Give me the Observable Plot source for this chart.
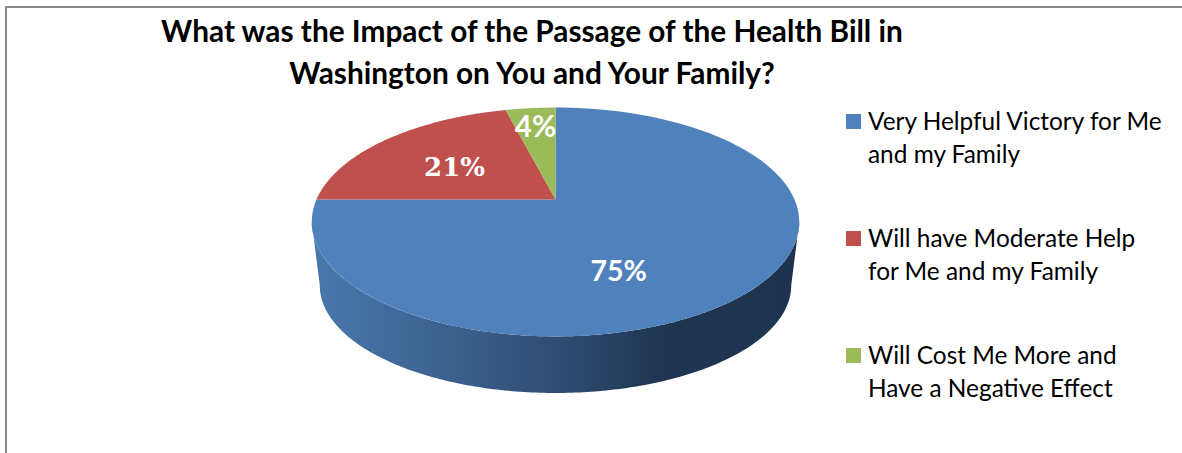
<!DOCTYPE html>
<html>
<head>
<meta charset="utf-8">
<script src="https://cdn.jsdelivr.net/npm/d3@7"></script>
<script src="https://cdn.jsdelivr.net/npm/@observablehq/plot@0.6"></script>
<style>
  html, body { margin: 0; padding: 0; background: #fff; overflow: hidden; }
  #chart { position: relative; width: 1182px; height: 453px; overflow: hidden; font-family: Lato, "Noto Sans", sans-serif; color: #000; }
  #frame { position: absolute; left: 5px; top: 6px; right: -10px; bottom: -10px; border: 2px solid #8a8a8a; }
  #title { position: absolute; left: 132px; width: 800px; top: 10px; text-align: center; font-size: 29.8px; line-height: 42px; font-weight: 700; white-space: nowrap; }
  #plot { position: absolute; left: 0; top: 0; }
  .entry { position: absolute; left: 846px; width: 330px; font-size: 24.4px; line-height: 33px; white-space: nowrap; }
  .entry i { position: absolute; left: 0; top: 10px; width: 15px; height: 15px; }
  .entry span { display: block; margin-left: 22px; }
</style>
</head>
<body>
<div id="chart">
  <div id="frame"></div>
  <div id="plot"></div>
  <div id="title">What was the Impact of the Passage of the Health Bill in<br>Washington on You and Your Family?</div>
  <div id="legend"></div>
</div>
<script>
const categories = ["Very Helpful Victory for Me", "Will have Moderate Help", "Will Cost Me More and"];
const categoriesLine2 = ["and my Family", "for Me and my Family", "Have a Negative Effect"];
const values = [75, 21, 4];
const valueLabels = ["75%", "21%", "4%"];
const colors = ["#4f81bd", "#c0504d", "#9bbb59"];

// Perspective model of the tilted disc (unit circle -> plot data units)
const tilt = 0.1965, bottomScaleX = 0.967, bottomScaleY = 0.939, drop = 0.59;
const project = (deg, r = 1) => {
  const a = deg * Math.PI / 180, u = r * Math.sin(a), v = r * Math.cos(a), w = 1 + tilt * v;
  return {x: u / w, y: v / w};
};
const projectBottom = (deg) => {
  const p = project(deg);
  return {x: p.x * bottomScaleX, y: p.y * bottomScaleY - drop};
};

// Top-face slices, clockwise from 12 o'clock
const total = d3.sum(values);
let cursor = 0;
const sliceRows = [];
const labelRows = [];
const labelSpots = [[0.264, -0.66], [-0.4226, 0.29], [-0.0837, 0.6545]];
const labelFonts = [["Lato, sans-serif", 28.5], ["DejaVu Serif, serif", 26], ["Lato, sans-serif", 29.5]];
categories.forEach((name, i) => {
  const start = cursor, end = cursor + values[i] / total * 360;
  sliceRows.push({slice: name, x: 0, y: 0});
  for (let t = 0; t <= 120; t++) {
    sliceRows.push({slice: name, ...project(start + (end - start) * t / 120)});
  }
  labelRows.push({text: valueLabels[i], x: labelSpots[i][0], y: labelSpots[i][1], family: labelFonts[i][0], size: labelFonts[i][1]});
  cursor = end;
});

// Front wall of the disc: between the two silhouette tangents
const tangent = Math.acos(-tilt) * 180 / Math.PI;
const wallRows = [];
for (let t = 0; t <= 200; t++) wallRows.push(project(tangent + (360 - 2 * tangent) * t / 200));
for (let t = 200; t >= 0; t--) wallRows.push(projectBottom(tangent + (360 - 2 * tangent) * t / 200));

// Horizontal shading of the wall, defined once for the mark below
const wallGradient = () => {
  const NS = "http://www.w3.org/2000/svg";
  const g = document.createElementNS(NS, "g");
  const defs = document.createElementNS(NS, "defs");
  const grad = document.createElementNS(NS, "linearGradient");
  grad.setAttribute("id", "wallShade");
  grad.setAttribute("gradientUnits", "objectBoundingBox");
  [[0, "#4a78ad"], [0.25, "#3d6391"], [0.5, "#2f4d73"], [0.72, "#1f3551"], [1, "#1e3350"]].forEach(([o, c]) => {
    const s = document.createElementNS(NS, "stop");
    s.setAttribute("offset", o);
    s.setAttribute("stop-color", c);
    grad.appendChild(s);
  });
  defs.appendChild(grad);
  g.appendChild(defs);
  return g;
};

const labelMark = (i) => Plot.text(labelRows.slice(i, i + 1), {
  x: "x", y: "y", text: "text", fill: "#fff", fontWeight: 700,
  fontSize: labelRows[i].size, fontFamily: labelRows[i].family
});

const chart = Plot.plot({
  width: 1182,
  height: 453,
  margin: 0,
  style: {background: "transparent"},
  x: {domain: [-1, 1], range: [316, 794], axis: null},
  y: {domain: [-1, 1], range: [309, 89], axis: null},
  color: {domain: categories, range: colors},
  marks: [
    wallGradient,
    Plot.line(wallRows, {x: "x", y: "y", fill: "url(#wallShade)", stroke: "none"}),
    Plot.line(sliceRows, {x: "x", y: "y", z: "slice", fill: "slice", stroke: "none"}),
    labelMark(0), labelMark(1), labelMark(2)
  ]
});
document.getElementById("plot").appendChild(chart);

const legendTops = [104, 221, 338];
const legend = document.getElementById("legend");
categories.forEach((name, i) => {
  const e = document.createElement("div");
  e.className = "entry";
  e.style.top = legendTops[i] + "px";
  const sw = document.createElement("i");
  sw.style.background = colors[i];
  e.appendChild(sw);
  const s = document.createElement("span");
  s.innerHTML = name + "<br>" + categoriesLine2[i];
  e.appendChild(s);
  legend.appendChild(e);
});
</script>
</body>
</html>
